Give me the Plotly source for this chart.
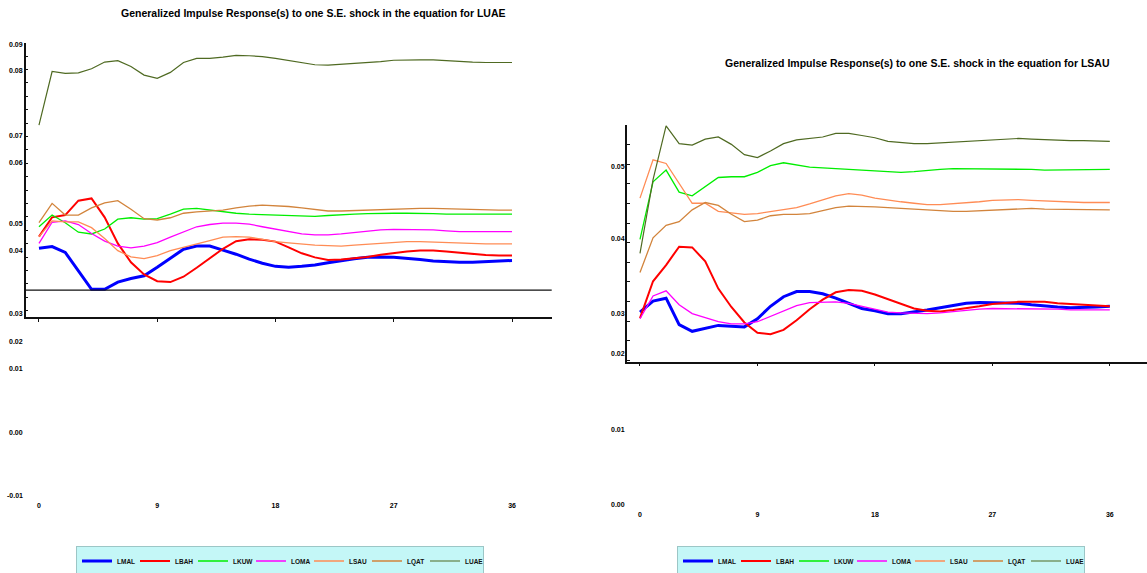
import plotly.graph_objects as go

# ---------------- data ----------------
HORIZON = list(range(37))
SERIES = ["LMAL", "LBAH", "LKUW", "LOMA", "LSAU", "LQAT", "LUAE"]
X_TICKS = [0, 9, 18, 27, 36]

# Panel 1: shock in the equation for LUAE
LUAE_SHOCK = {
    "LMAL": [0.0443, 0.0447, 0.0434, 0.0393, 0.0352, 0.0352, 0.0368, 0.0376, 0.0382, 0.0401,
             0.0422, 0.0441, 0.0448, 0.0448, 0.0439, 0.0430, 0.0419, 0.0410, 0.0403, 0.0401,
             0.0403, 0.0406, 0.0411, 0.0416, 0.0420, 0.0423, 0.0424, 0.0423, 0.0421, 0.0418,
             0.0415, 0.0413, 0.0412, 0.0412, 0.0413, 0.0415, 0.0416],
    "LBAH": [0.0469, 0.0512, 0.0517, 0.0549, 0.0554, 0.0512, 0.0454, 0.0412, 0.0385, 0.0370,
             0.0368, 0.0380, 0.0400, 0.0421, 0.0442, 0.0459, 0.0463, 0.0462, 0.0458, 0.0445,
             0.0432, 0.0423, 0.0417, 0.0418, 0.0421, 0.0424, 0.0429, 0.0433, 0.0436, 0.0438,
             0.0438, 0.0436, 0.0433, 0.0430, 0.0428, 0.0427, 0.0427],
    "LKUW": [0.0491, 0.0517, 0.0500, 0.0479, 0.0475, 0.0486, 0.0508, 0.0511, 0.0508, 0.0509,
             0.0519, 0.0530, 0.0532, 0.0528, 0.0524, 0.0521, 0.0519, 0.0518, 0.0516, 0.0515,
             0.0514, 0.0514, 0.0516, 0.0518, 0.0519, 0.0520, 0.0521, 0.0521, 0.0521, 0.0521,
             0.0520, 0.0519, 0.0519, 0.0519, 0.0519, 0.0519, 0.0519],
    "LOMA": [0.0454, 0.0501, 0.0504, 0.0496, 0.0476, 0.0459, 0.0448, 0.0444, 0.0448, 0.0456,
             0.0468, 0.0480, 0.0491, 0.0496, 0.0499, 0.0499, 0.0497, 0.0491, 0.0486, 0.0480,
             0.0475, 0.0473, 0.0473, 0.0475, 0.0478, 0.0481, 0.0484, 0.0485, 0.0485, 0.0485,
             0.0484, 0.0482, 0.0480, 0.0480, 0.0480, 0.0480, 0.0480],
    "LSAU": [0.0469, 0.0504, 0.0502, 0.0502, 0.0489, 0.0465, 0.0438, 0.0424, 0.0420, 0.0427,
             0.0438, 0.0445, 0.0453, 0.0460, 0.0468, 0.0469, 0.0468, 0.0463, 0.0458, 0.0455,
             0.0452, 0.0450, 0.0449, 0.0448, 0.0450, 0.0452, 0.0454, 0.0456, 0.0458, 0.0458,
             0.0457, 0.0455, 0.0454, 0.0454, 0.0453, 0.0453, 0.0453],
    "LQAT": [0.0500, 0.0543, 0.0517, 0.0517, 0.0533, 0.0544, 0.0549, 0.0530, 0.0509, 0.0506,
             0.0511, 0.0521, 0.0524, 0.0526, 0.0528, 0.0533, 0.0537, 0.0539, 0.0538, 0.0536,
             0.0533, 0.0529, 0.0526, 0.0526, 0.0527, 0.0529, 0.0530, 0.0531, 0.0532, 0.0532,
             0.0532, 0.0531, 0.0530, 0.0529, 0.0529, 0.0528, 0.0528],
    "LUAE": [0.0717, 0.0836, 0.0832, 0.0833, 0.0842, 0.0857, 0.0860, 0.0847, 0.0828, 0.0821,
             0.0834, 0.0856, 0.0865, 0.0865, 0.0868, 0.0872, 0.0871, 0.0869, 0.0865, 0.0860,
             0.0856, 0.0851, 0.0850, 0.0852, 0.0854, 0.0855, 0.0858, 0.0861, 0.0862, 0.0862,
             0.0862, 0.0860, 0.0858, 0.0857, 0.0856, 0.0856, 0.0856],
}

# Panel 2: shock in the equation for LSAU
LSAU_SHOCK = {
    "LMAL": [0.0300, 0.0315, 0.0319, 0.0283, 0.0274, 0.0278, 0.0282, 0.0281, 0.0280, 0.0291,
             0.0308, 0.0321, 0.0328, 0.0328, 0.0325, 0.0319, 0.0312, 0.0305, 0.0302, 0.0298,
             0.0298, 0.0300, 0.0303, 0.0306, 0.0309, 0.0312, 0.0313, 0.0313, 0.0313, 0.0312,
             0.0310, 0.0308, 0.0307, 0.0306, 0.0306, 0.0307, 0.0308],
    "LBAH": [0.0292, 0.0342, 0.0364, 0.0389, 0.0388, 0.0369, 0.0332, 0.0307, 0.0286, 0.0272,
             0.0270, 0.0276, 0.0289, 0.0304, 0.0317, 0.0327, 0.0330, 0.0329, 0.0324, 0.0318,
             0.0311, 0.0305, 0.0302, 0.0301, 0.0303, 0.0305, 0.0308, 0.0311, 0.0313, 0.0314,
             0.0314, 0.0314, 0.0312, 0.0311, 0.0310, 0.0308, 0.0308],
    "LKUW": [0.0399, 0.0477, 0.0493, 0.0463, 0.0458, 0.0471, 0.0483, 0.0484, 0.0484, 0.0490,
             0.0499, 0.0503, 0.0500, 0.0497, 0.0496, 0.0495, 0.0495, 0.0494, 0.0492, 0.0491,
             0.0490, 0.0491, 0.0493, 0.0494, 0.0495, 0.0495, 0.0495, 0.0495, 0.0495, 0.0494,
             0.0494, 0.0493, 0.0493, 0.0493, 0.0493, 0.0494, 0.0494],
    "LOMA": [0.0291, 0.0322, 0.0329, 0.0310, 0.0298, 0.0293, 0.0287, 0.0284, 0.0284, 0.0287,
             0.0294, 0.0302, 0.0309, 0.0313, 0.0314, 0.0314, 0.0312, 0.0308, 0.0304, 0.0300,
             0.0299, 0.0298, 0.0298, 0.0299, 0.0301, 0.0302, 0.0304, 0.0305, 0.0305, 0.0305,
             0.0305, 0.0304, 0.0304, 0.0303, 0.0303, 0.0303, 0.0303],
    "LSAU": [0.0455, 0.0507, 0.0502, 0.0475, 0.0448, 0.0448, 0.0437, 0.0435, 0.0433, 0.0434,
             0.0437, 0.0440, 0.0442, 0.0447, 0.0453, 0.0458, 0.0461, 0.0459, 0.0455, 0.0452,
             0.0450, 0.0448, 0.0446, 0.0446, 0.0447, 0.0448, 0.0450, 0.0452, 0.0453, 0.0453,
             0.0452, 0.0451, 0.0450, 0.0449, 0.0449, 0.0449, 0.0449],
    "LQAT": [0.0354, 0.0401, 0.0418, 0.0423, 0.0439, 0.0449, 0.0445, 0.0433, 0.0423, 0.0425,
             0.0431, 0.0433, 0.0433, 0.0434, 0.0438, 0.0442, 0.0444, 0.0444, 0.0443, 0.0442,
             0.0441, 0.0440, 0.0438, 0.0437, 0.0437, 0.0437, 0.0438, 0.0439, 0.0440, 0.0440,
             0.0441, 0.0440, 0.0440, 0.0440, 0.0440, 0.0439, 0.0439],
    "LUAE": [0.0380, 0.0480, 0.0553, 0.0529, 0.0527, 0.0535, 0.0538, 0.0528, 0.0514, 0.0510,
             0.0519, 0.0529, 0.0534, 0.0536, 0.0538, 0.0543, 0.0543, 0.0540, 0.0537, 0.0532,
             0.0530, 0.0529, 0.0529, 0.0530, 0.0531, 0.0532, 0.0534, 0.0535, 0.0536, 0.0536,
             0.0535, 0.0534, 0.0533, 0.0533, 0.0533, 0.0532, 0.0532],
}

TITLE_LEFT = "Generalized Impulse Response(s) to one S.E. shock in the equation for LUAE"
TITLE_RIGHT = "Generalized Impulse Response(s) to one S.E. shock in the equation for LSAU"
LEFT_YLABELS = ["0.09", "0.08", "0.07", "0.06", "0.05", "0.04", "0.03", "0.02", "0.01", "0.00", "-0.01"]
RIGHT_YLABELS = ["0.05", "0.04", "0.03", "0.02", "0.01", "0.00"]
REF_LEVEL_LEFT = 0.0350

# ---------------- styles / layout ----------------
W, H = 1147, 573
FONT = "Liberation Sans, Arial, sans-serif"
COLORS = {"LMAL": "#0000ff", "LBAH": "#ff0000", "LKUW": "#00ee00", "LOMA": "#ff00ff",
          "LSAU": "#ff8c55", "LQAT": "#d2843c", "LUAE": "#4f6a22"}
WIDTHS = {"LMAL": 3.0, "LBAH": 2.0, "LKUW": 1.3, "LOMA": 1.3, "LSAU": 1.3, "LQAT": 1.3, "LUAE": 1.2}

LEFT_YLABEL_PX = [44.7, 70.7, 136, 162.3, 223.3, 250.7, 313.3, 341.7, 368.3, 432.3, 495]
RIGHT_YLABEL_PX = [166, 238.5, 313, 353.3, 429, 504]


def px(x):
    return x / W


def py(y):
    return 1 - y / H


fig = go.Figure()
for name in SERIES:
    fig.add_trace(go.Scatter(x=HORIZON, y=LUAE_SHOCK[name], mode="lines", name=name,
                             line=dict(color=COLORS[name], width=WIDTHS[name]),
                             xaxis="x", yaxis="y", legend="legend"))
for name in SERIES:
    fig.add_trace(go.Scatter(x=HORIZON, y=LSAU_SHOCK[name], mode="lines", name=name,
                             line=dict(color=COLORS[name], width=WIDTHS[name]),
                             xaxis="x2", yaxis="y2", legend="legend2"))

tickfont = dict(family=FONT, size=7, color="#000", weight="bold")
common_x = dict(tickvals=X_TICKS, showline=True, linecolor="#111", linewidth=1.5,
                ticks="outside", ticklen=3, tickcolor="#111", showgrid=False,
                zeroline=False, tickfont=tickfont)
common_y = dict(showline=True, linecolor="#111", linewidth=1.5, ticks="inside", ticklen=3,
                tickcolor="#111", showticklabels=False, showgrid=False, zeroline=False,
                tickmode="linear")

annotations = []
for lab, p in zip(LEFT_YLABELS, LEFT_YLABEL_PX):
    annotations.append(dict(x=px(25), y=py(p), xref="paper", yref="paper", text=lab,
                            showarrow=False, xanchor="right", yanchor="middle",
                            font=tickfont))
for lab, p in zip(RIGHT_YLABELS, RIGHT_YLABEL_PX):
    annotations.append(dict(x=px(626.5), y=py(p), xref="paper", yref="paper", text=lab,
                            showarrow=False, xanchor="right", yanchor="middle",
                            font=tickfont))
titlefont = dict(family=FONT, size=10.5, color="#000", weight="bold")
annotations.append(dict(x=px(313), y=py(13), xref="paper", yref="paper", text=TITLE_LEFT,
                        showarrow=False, xanchor="center", yanchor="middle", font=titlefont))
annotations.append(dict(x=px(917), y=py(63.3), xref="paper", yref="paper", text=TITLE_RIGHT,
                        showarrow=False, xanchor="center", yanchor="middle", font=titlefont))

legend_common = dict(orientation="h", xanchor="center", yanchor="middle",
                     bgcolor="#c4f7f7", bordercolor="#9cc6c6", borderwidth=1,
                     font=dict(family=FONT, size=6.5, color="#111", weight="bold"),
                     entrywidth=13, itemwidth=30, tracegroupgap=0)

fig.update_layout(
    width=W, height=H,
    margin=dict(l=0, r=0, t=0, b=0, autoexpand=False),
    paper_bgcolor="white", plot_bgcolor="white",
    font=dict(family=FONT),
    xaxis=dict(domain=[px(25.7), px(551.7)], range=[-1.01, 39.02], anchor="y",
               ticklabelstandoff=178, **common_x),
    yaxis=dict(domain=[py(317.3), py(42.7)], range=[0.02898, 0.0900], anchor="x",
               tick0=0.0900, dtick=0.002978, **common_y),
    xaxis2=dict(domain=[px(627.3), 1.0], range=[-0.972, 38.85], anchor="y2",
                ticklabelstandoff=142, **common_x),
    yaxis2=dict(domain=[py(361.7), py(125)], range=[0.02327, 0.05543], anchor="x2",
                tick0=0.05543, dtick=0.002663, **common_y),
    legend=dict(x=px(280), y=py(561), **legend_common),
    legend2=dict(x=px(881), y=py(561), **legend_common),
    annotations=annotations,
    shapes=[dict(type="line", xref="x domain", yref="y", x0=0, x1=1,
                 y0=REF_LEVEL_LEFT, y1=REF_LEVEL_LEFT, line=dict(color="#111", width=1.2))],
)

fig.write_html("out.html", config={"displayModeBar": False},
               post_script="document.body.style.margin='0';document.body.style.overflow='hidden';")
